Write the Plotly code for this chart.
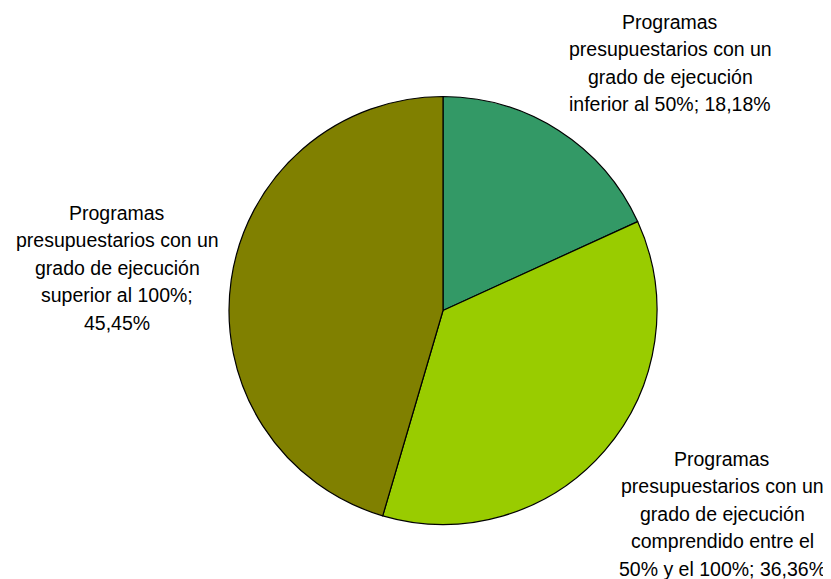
import plotly.graph_objects as go

# Pie data
categories = [
    "Programas presupuestarios con un grado de ejecución inferior al 50%",
    "Programas presupuestarios con un grado de ejecución comprendido entre el 50% y el 100%",
    "Programas presupuestarios con un grado de ejecución superior al 100%",
]
values = [18.18, 36.36, 45.45]
value_labels = ["18,18%", "36,36%", "45,45%"]
colors = ["#339966", "#99CC00", "#808000"]

# label lines, as wrapped in the original
label_lines = [
    ["Programas", "presupuestarios con un", "grado de ejecución", "inferior al 50%; " + value_labels[0]],
    ["Programas", "presupuestarios con un", "grado de ejecución", "comprendido entre el",
     "50% y el 100%; " + value_labels[1]],
    ["Programas", "presupuestarios con un", "grado de ejecución", "superior al 100%;", value_labels[2]],
]

W, H = 831, 579
OFF = 8  # page body margin
LABEL_POS = [(670, 22), (722, 459), (117, 213)]  # centre of first line, px in window
LINE_STEP = 27.4


def px(x, y):
    return (x - OFF) / W, 1 - (y - OFF) / H


fig = go.Figure(go.Pie(
    labels=categories,
    values=values,
    sort=False,
    direction='clockwise',
    rotation=0,
    marker=dict(colors=colors, line=dict(color='black', width=1.2)),
    textinfo='none',
    hoverinfo='label+percent',
    domain=dict(x=[(229 - OFF) / W, (657 - OFF) / W], y=[1 - (525 - OFF) / H, 1 - (96 - OFF) / H]),
    showlegend=False,
))

for lines, (cx, cy) in zip(label_lines, LABEL_POS):
    for i, line in enumerate(lines):
        ax, ay = px(cx, cy + i * LINE_STEP)
        fig.add_annotation(
            x=ax, y=ay, xref='paper', yref='paper',
            text=line, showarrow=False,
            xanchor='center', yanchor='middle',
            font=dict(family='Liberation Sans, Arial', size=19.5, color='black'),
        )

fig.update_layout(
    width=W, height=H,
    margin=dict(l=0, r=0, t=0, b=0),
    paper_bgcolor='white', plot_bgcolor='white',
)

fig.write_html("out.html")
